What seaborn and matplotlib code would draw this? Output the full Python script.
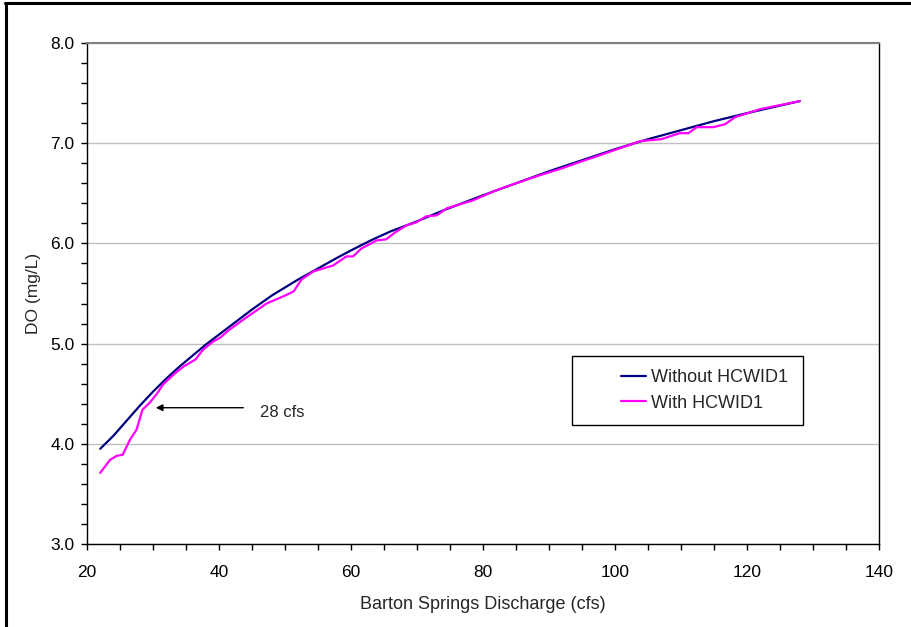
import matplotlib
matplotlib.use("Agg")
import matplotlib.pyplot as plt
from matplotlib.lines import Line2D
from matplotlib.patches import Rectangle
from matplotlib.ticker import MultipleLocator, FormatStrFormatter
import pandas as pd
import seaborn as sns

# Datos (caudal en cfs, OD en mg/L)
q_sin = [22, 24, 26, 28, 30, 32, 34, 36, 38, 40, 42, 45, 48, 50, 52, 55, 58, 60, 63, 66,
         70, 74, 78, 80, 85, 90, 95, 100, 105, 110, 115, 120, 124, 128]
do_sin = [3.95, 4.08, 4.23, 4.38, 4.52, 4.65, 4.77, 4.88, 4.99, 5.09, 5.19, 5.34, 5.48, 5.56,
          5.64, 5.75, 5.86, 5.93, 6.03, 6.12, 6.22, 6.33, 6.43, 6.48, 6.60, 6.72, 6.83, 6.94,
          7.04, 7.13, 7.22, 7.30, 7.36, 7.42]

q_con = [22, 23.5, 24.5, 25.4, 26.5, 27.5, 28.4, 29.5, 30.6, 31.5, 33.1, 34.6, 36.4, 37.6,
         39.1, 40.2, 41.4, 43.7, 47.2, 49.7, 51.3, 52.5, 54.3, 57.3, 59.3, 60.3, 61.6, 63.9,
         65.3, 66.7, 68.4, 69.9, 71.4, 73.0, 74.5, 78.5, 82, 85, 88.6, 92, 95, 97.7, 103.8,
         107.0, 109.8, 111.1, 112.4, 114.9, 116.7, 118.2, 122, 128]
do_con = [3.71, 3.84, 3.88, 3.89, 4.04, 4.14, 4.34, 4.41, 4.50, 4.59, 4.69, 4.77, 4.84, 4.94,
          5.02, 5.06, 5.13, 5.24, 5.40, 5.47, 5.52, 5.64, 5.72, 5.78, 5.87, 5.87, 5.95, 6.03,
          6.04, 6.11, 6.18, 6.21, 6.27, 6.28, 6.35, 6.43, 6.53, 6.60, 6.68, 6.75, 6.82, 6.88, 7.02,
          7.04, 7.10, 7.10, 7.16, 7.16, 7.19, 7.26, 7.34, 7.42]

series = ["Without HCWID1", "With HCWID1"]
colores = {"Without HCWID1": "#000080", "With HCWID1": "#FF00FF"}

df = pd.concat([
    pd.DataFrame({"q": q_sin, "do": do_sin, "serie": series[0]}),
    pd.DataFrame({"q": q_con, "do": do_con, "serie": series[1]}),
])

sns.set_style("white")
plt.rcParams["font.family"] = ["Liberation Sans", "DejaVu Sans"]

fig = plt.figure(figsize=(9.12, 6.27), dpi=100)
ax = fig.add_axes([0.0954, 0.1324, 0.8684, 0.799])

sns.lineplot(data=df, x="q", y="do", hue="serie", palette=colores, sort=False,
             estimator=None, linewidth=1.6, ax=ax, legend=False, zorder=3)

ax.xaxis.set_major_locator(MultipleLocator(20))
ax.xaxis.set_minor_locator(MultipleLocator(5))
ax.yaxis.set_major_locator(MultipleLocator(1))
ax.yaxis.set_minor_locator(MultipleLocator(0.2))
ax.yaxis.set_major_formatter(FormatStrFormatter("%.1f"))
ax.set_xlim(20, 140)
ax.set_ylim(3.0, 8.0)

ax.tick_params(axis="both", which="both", direction="out", length=4, width=1,
               colors="black", labelsize=12.5, bottom=True, left=True)
ax.tick_params(axis="x", which="major", pad=11)
ax.tick_params(axis="y", which="major", pad=5)

ax.grid(axis="y", which="major", color="#c0c0c0", linewidth=1)
ax.set_axisbelow(True)

for lado in ["left", "bottom", "right"]:
    ax.spines[lado].set_color("black")
    ax.spines[lado].set_linewidth(1)
ax.spines["top"].set_color("#808080")
ax.spines["top"].set_linewidth(1.5)

ax.set_xlabel("Barton Springs Discharge (cfs)", fontsize=13, labelpad=12)
ax.set_ylabel("DO (mg/L)", fontsize=12.5, labelpad=7)

# Flecha de 28 cfs
ax.annotate("", xy=(30.0, 4.36), xytext=(44.1, 4.36),
            arrowprops=dict(arrowstyle="-|>", color="black", lw=1, mutation_scale=10))
ax.text(46.2, 4.31, "28 cfs", fontsize=12, va="center", ha="left")

# Leyenda (marco aparte, como en Excel)
ax.add_patch(Rectangle((0.612, 0.2375), 0.292, 0.1375, transform=ax.transAxes,
                       facecolor="white", edgecolor="black", linewidth=1, zorder=4))
handles = [Line2D([0], [0], color=colores[s], lw=1.6) for s in series]
leg = ax.legend(handles, series, loc="center left", bbox_to_anchor=(0.674, 0.3064),
                fontsize=13, frameon=False, handlelength=1.4, handletextpad=0.3,
                labelspacing=0.45, borderpad=0, borderaxespad=0)
leg.set_zorder(5)

# Marco exterior (solo arriba e izquierda)
fig.add_artist(Line2D([6.5 / 912, 6.5 / 912], [0, 1 - 2.5 / 627], color="black", lw=2.2))
fig.add_artist(Line2D([5.5 / 912, 1], [1 - 2.5 / 627, 1 - 2.5 / 627], color="black", lw=2.2))

fig.savefig("out.png", dpi=100)
